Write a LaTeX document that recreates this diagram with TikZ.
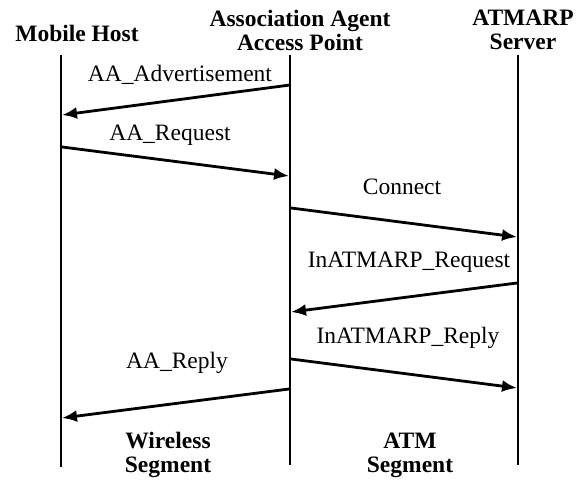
\documentclass[tikz,border=0pt]{standalone}
\usepackage{fontspec}
\setmainfont{Liberation Serif}
\usetikzlibrary{arrows.meta}
\begin{document}
\begin{tikzpicture}[x=1pt,y=-1pt,
  life/.style={line width=2.8pt},
  msg/.style={line width=2.8pt,-{Latex[length=15pt,width=12pt]}},
  hdr/.style={font=\fontsize{23.5}{25}\selectfont\bfseries,align=center,inner sep=0pt},
  lbl/.style={font=\fontsize{23.5}{24}\selectfont,inner sep=0pt}]
\useasboundingbox (0,0) rectangle (586,481);
% headers
\node[hdr] (mh) at (77,33) {Mobile Host};
\node[hdr] (ap) at (300,30) {Association Agent\\[-1pt]Access Point};
\node[hdr] (sv) at (523,30) {ATMARP\\[-1pt]Server};
% lifelines
\coordinate (mht) at (61,55);  \coordinate (mhb) at (61,467);
\coordinate (apt) at (290,55); \coordinate (apb) at (290,465);
\coordinate (svt) at (518,55); \coordinate (svb) at (518,465);
\draw[life] (mht) -- (mhb);
\draw[life] (apt) -- (apb);
\draw[life] (svt) -- (svb);
% message end points
\coordinate (a1) at (290,85);  \coordinate (b1) at (62,115);
\coordinate (a2) at (62,147);  \coordinate (b2) at (289,176);
\coordinate (a3) at (291,208); \coordinate (b3) at (517,237);
\coordinate (a4) at (517,283); \coordinate (b4) at (291,312);
\coordinate (a5) at (291,359); \coordinate (b5) at (517,388);
\coordinate (a6) at (289,389); \coordinate (b6) at (62,418);
\draw[msg] (a1) -- (b1);
\draw[msg] (a2) -- (b2);
\draw[msg] (a3) -- (b3);
\draw[msg] (a4) -- (b4);
\draw[msg] (a5) -- (b5);
\draw[msg] (a6) -- (b6);
% labels
\node[lbl] (l1) at (180,75) {AA\_Advertisement};
\node[lbl] (l2) at (170,135) {AA\_Request};
\node[lbl] (l3) at (402,187) {Connect};
\node[lbl] (l4) at (409,262) {InATMARP\_Request};
\node[lbl] (l5) at (408,338) {InATMARP\_Reply};
\node[lbl] (l6) at (177,363) {AA\_Reply};
% segments
\node[hdr] (ws) at (168,455) {Wireless\\[-1pt]Segment};
\node[hdr] (as) at (410,455) {ATM\\[-1pt]Segment};
\end{tikzpicture}
\end{document}
